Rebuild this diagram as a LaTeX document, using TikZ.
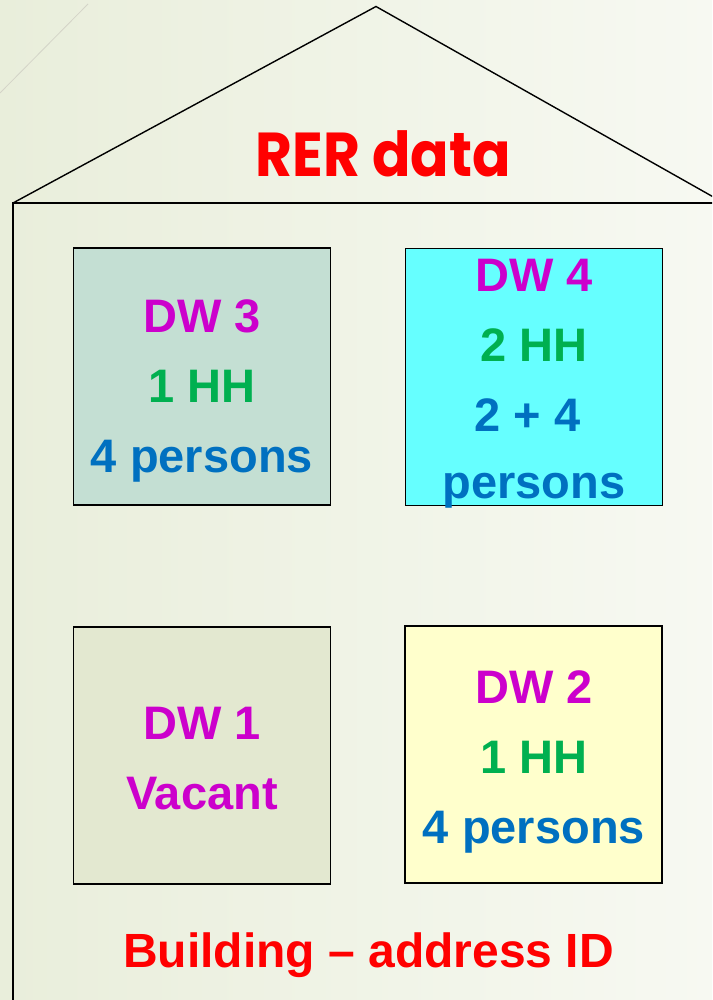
\documentclass[tikz,border=0pt]{standalone}
\usepackage{fontspec}
\setmainfont{Liberation Sans}
\newfontfamily\titlefont{Poppins}
\definecolor{bgL}{RGB}{233,238,219}
\definecolor{bgR}{RGB}{247,249,242}
\definecolor{magentaT}{RGB}{204,0,204}
\definecolor{greenT}{RGB}{0,176,80}
\definecolor{blueT}{RGB}{0,112,192}
\definecolor{redT}{RGB}{255,0,0}
\definecolor{fillA}{RGB}{196,223,211}
\definecolor{fillB}{RGB}{102,255,255}
\definecolor{fillC}{RGB}{227,232,208}
\definecolor{fillD}{RGB}{255,255,204}
\definecolor{faint}{RGB}{212,212,200}
\tikzset{
  dwbox/.style={draw=black, line width=1.5pt, inner sep=0pt, minimum width=257pt, minimum height=257pt},
  dwtext/.style={anchor=base, inner sep=0pt, font=\fontsize{47}{70}\selectfont\bfseries},
  wall/.style={draw=black, line width=1.6pt},
}
\begin{document}
\begin{tikzpicture}[x=1pt,y=-1pt]
\useasboundingbox (0,0) rectangle (712,1000);
\fill[left color=bgL, right color=bgR] (0,0) rectangle (712,1000);
\begin{scope}
\clip (0,0) rectangle (712,1000);
\draw[faint, line width=0.8pt] (0,93) -- (88,4);
\draw[wall] (13,1010) -- (13,203) -- (730,203);
\draw[wall, line width=1.4pt] (13,203) -- (376,6.5) -- (724,203);
\end{scope}
\node[anchor=base, inner sep=0pt, text=redT, font=\titlefont\fontsize{62}{70}\selectfont\bfseries] (title) at (383,177) {\scalebox{0.915}[1]{RER data}};

\node[dwbox, fill=fillA] (dw3) at (202,376.5) {};
\node[dwbox, fill=fillB] (dw4) at (534,377) {};
\node[dwbox, fill=fillC] (dw1) at (202,755.5) {};
\node[dwbox, fill=fillD] (dw2) at (533.5,754.5) {};

\node[dwtext] (t3) at (202,332) {\begin{tabular}[t]{@{}c@{}}
\textcolor{magentaT}{DW 3}\\
\textcolor{greenT}{1 HH}\\
\textcolor{blueT}{4 persons}
\end{tabular}};
\node[dwtext] (t4) at (534,291) {\begin{tabular}[t]{@{}c@{}}
\textcolor{magentaT}{DW 4}\\
\textcolor{greenT}{2 HH}\\
\textcolor{blueT}{2 + 4\hspace*{13pt}}\\[-3pt]
\textcolor{blueT}{persons}
\end{tabular}};
\node[dwtext] (t1) at (202,739) {\begin{tabular}[t]{@{}c@{}}
\textcolor{magentaT}{DW 1}\\
\textcolor{magentaT}{Vacant}
\end{tabular}};
\node[dwtext] (t2) at (534,703) {\begin{tabular}[t]{@{}c@{}}
\textcolor{magentaT}{DW 2}\\
\textcolor{greenT}{1 HH}\\
\textcolor{blueT}{4 persons}
\end{tabular}};

\node[anchor=base, inner sep=0pt, text=redT, font=\fontsize{48}{56}\selectfont\bfseries] (addr) at (368.5,967) {Building -- address ID};
\end{tikzpicture}
\end{document}
